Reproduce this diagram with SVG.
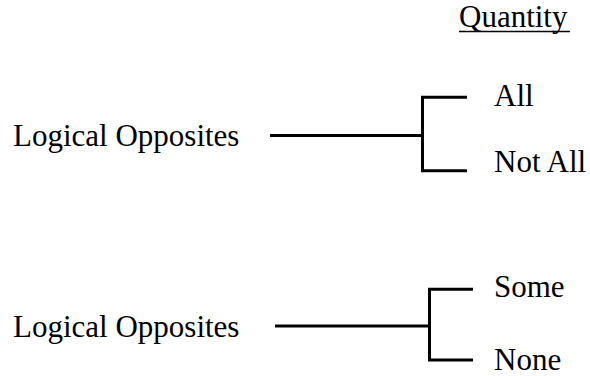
<svg xmlns="http://www.w3.org/2000/svg" width="590" height="376" viewBox="0 0 590 376">
<style>
text{font-family:"Liberation Serif","Times New Roman",serif;font-size:31px;fill:#000}
.c{fill:none;stroke:#000;stroke-width:3}
</style>
<rect width="590" height="376" fill="#fff"/>
<g id="header">
<text x="459" y="27">Quantity</text>
<line x1="459" y1="31.5" x2="570" y2="31.5" stroke="#000" stroke-width="1.5"/>
</g>
<g id="n1"><text x="13" y="146">Logical Opposites</text></g>
<g id="n2"><text x="494" y="106">All</text></g>
<g id="n3"><text x="494" y="172">Not All</text></g>
<g id="n4"><text x="13" y="337">Logical Opposites</text></g>
<g id="n5"><text x="494" y="297">Some</text></g>
<g id="n6"><text x="494" y="370">None</text></g>
<g id="connectors">
<path class="c" d="M270 135.5H422.5M467 97.3H422.5V170.7H467"/>
<path class="c" d="M275 326H429.5M473 289.3H429.5V360H473"/>
</g>
</svg>
